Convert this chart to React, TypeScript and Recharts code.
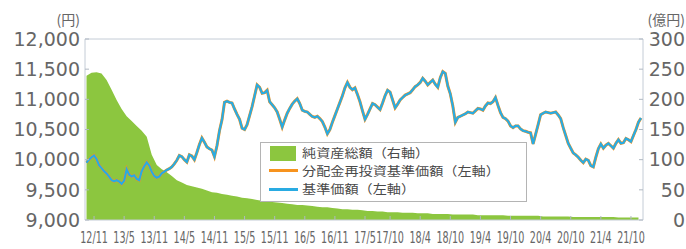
import React from 'react';
import { ComposedChart, Area, Line, XAxis, YAxis, Legend, ReferenceLine } from 'recharts';

// months counted from Jan 2012 (0 = 2012/1)
const NAV_START = 8.5; // mid-Sep 2012
const NAV_STEP = 0.5; // semi-monthly
const ASSET_START = 8.5;
const ASSET_STEP = 1; // monthly

// 基準価額 (円)
const navValues = [
  9950, 10000, 10040, 10070, 10010, 9910, 9860, 9810, 9770, 9720,
  9660, 9640, 9660, 9640, 9600, 9650, 9840, 9750, 9720, 9740,
  9680, 9660, 9810, 9890, 9955, 9900, 9800, 9730, 9700, 9720,
  9775, 9800, 9830, 9850, 9880, 9930, 9990, 10070, 10050, 10000,
  9960, 10080, 10060, 10000, 10120, 10250, 10360, 10290, 10210, 10180,
  10160, 10050, 10230, 10480, 10660, 10950, 10970, 10950, 10940, 10840,
  10750, 10670, 10520, 10500, 10580, 10730, 10880, 11060, 11240, 11200,
  11100, 11110, 11150, 10960, 10910, 10860, 10790, 10670, 10540, 10660,
  10770, 10850, 10920, 10970, 11010, 10930, 10820, 10800, 10790, 10750,
  10715, 10700, 10720, 10680, 10630, 10540, 10430, 10500, 10620, 10730,
  10840, 10950, 11060, 11190, 11280, 11200, 11160, 11190, 11080, 10960,
  10810, 10670, 10750, 10840, 10930, 10910, 10870, 10830, 10940, 11060,
  11150, 11120, 10990, 10860, 10920, 10990, 11030, 11070, 11090, 11110,
  11160, 11210, 11240, 11280, 11350, 11300, 11240, 11280, 11320, 11250,
  11200, 11360, 11460, 11430, 11220, 11090, 10890, 10620, 10700, 10720,
  10740, 10760, 10790, 10780, 10770, 10810, 10850, 10840, 10820, 10890,
  10940, 10930, 10960, 11030, 10900, 10780, 10700, 10680, 10640, 10560,
  10530, 10560, 10560, 10510, 10480, 10470, 10455, 10445, 10260, 10420,
  10580, 10745, 10770, 10790, 10780, 10770, 10780, 10790, 10740, 10680,
  10530, 10400, 10270, 10190, 10110, 10080, 10040, 9990, 9950, 10010,
  9990, 9900, 9880, 10040, 10180, 10260, 10190, 10240, 10270, 10230,
  10190, 10270, 10330, 10270, 10280, 10350, 10330, 10300, 10400, 10500,
  10620, 10690,
];

// 分配金再投資基準価額 (円) – no distributions, identical to 基準価額
const reinvestValues = navValues;

// 純資産総額 (億円)
const assetValues = [
  239, 244, 245, 243, 232, 216, 199, 184, 172, 164,
  156, 148, 138, 108, 91, 84, 79, 73, 66, 62,
  58, 56, 54, 52, 49, 46, 45, 43, 42, 40,
  39, 37, 36, 35, 33, 32, 31, 30, 29, 28,
  27, 26, 25, 25, 24, 23, 22, 21, 21, 20,
  19, 18, 18, 17, 17, 16, 15, 15, 14, 14,
  13, 13, 13, 12, 12, 12, 11, 11, 11, 10,
  10, 10, 10, 9, 9, 9, 9, 9, 8, 8,
  8, 8, 8, 8, 7, 7, 7, 7, 7, 7,
  7, 6, 6, 6, 6, 6, 6, 5, 5, 5,
  5, 5, 5, 5, 5, 5, 4, 4, 4, 4, 4,
];

const xTickLabels = [
  '12/11', '13/5', '13/11', '14/5', '14/11', '15/5', '15/11', '16/5', '16/11',
  '17/5', '17/10', '18/4', '18/10', '19/4', '19/10', '20/4', '20/10', '21/4', '21/10',
];
const leftTicks = [9000, 9500, 10000, 10500, 11000, 11500, 12000];
const rightTicks = [0, 50, 100, 150, 200, 250, 300];

const seriesNames = {
  assets: '純資産総額（右軸）',
  reinvest: '分配金再投資基準価額（左軸）',
  nav: '基準価額（左軸）',
};
const leftUnit = '(円)';
const rightUnit = '(億円)';

const GREEN = '#8cc63f';
const ORANGE = '#f7931e';
const BLUE = '#29abe2';
const FRAME = '#c4ccd6';
const AXIS_TEXT = '#666';
const NUM_FONT = '"DejaVu Sans", Verdana, sans-serif';
const CJK_FONT = '"Noto Sans CJK JP", "Noto Sans", sans-serif';

const labelToMonth = (l: string) => {
  const [yy, mm] = l.split('/').map(Number);
  return (yy - 12) * 12 + (mm - 1);
};
const xTickValues = xTickLabels.map(labelToMonth);

const navRows = navValues.map((v, i) => ({
  t: NAV_START + i * NAV_STEP,
  nav: v,
  reinvest: reinvestValues[i],
}));
const assetRows = assetValues.map((v, j) => ({ t: ASSET_START + j * ASSET_STEP, assets: v }));

const XTick = (props: any) => {
  const { x, y, payload } = props;
  const idx = xTickValues.indexOf(payload.value);
  return (
    <text
      transform={`translate(${x},${y + 19}) scale(0.64,1)`}
      textAnchor="middle"
      fontSize={15}
      fill={AXIS_TEXT}
      fontFamily={NUM_FONT}
    >
      {idx >= 0 ? xTickLabels[idx] : ''}
    </text>
  );
};

const rowText: React.CSSProperties = {
  position: 'absolute',
  left: 41,
  height: 17,
  fontSize: 12.4,
  lineHeight: '17px',
  whiteSpace: 'nowrap',
  transform: 'scaleX(1.14)',
  transformOrigin: 'left center',
};

const LegendBox = () => (
  <div
    style={{
      position: 'relative',
      width: 267,
      height: 60,
      boxSizing: 'border-box',
      border: '1px solid #b4b4b4',
      background: '#fff',
      fontFamily: CJK_FONT,
      color: '#4a4a4a',
    }}
  >
    <div style={{ position: 'absolute', left: 9, top: 3, width: 26, height: 15, background: GREEN }} />
    <div style={{ ...rowText, top: 2 }}>{seriesNames.assets}</div>
    <div style={{ position: 'absolute', left: 8, top: 26, width: 29, height: 3, background: ORANGE }} />
    <div style={{ ...rowText, top: 20 }}>{seriesNames.reinvest}</div>
    <div style={{ position: 'absolute', left: 8, top: 45, width: 29, height: 3, background: BLUE }} />
    <div style={{ ...rowText, top: 38 }}>{seriesNames.nav}</div>
  </div>
);

export default function App() {
  return (
    <div style={{ position: 'absolute', left: 0, top: 0, width: 686, height: 249, background: '#fff' }}>
      <ComposedChart width={686} height={249} margin={{ top: 39, right: 5, bottom: 0, left: 5 }}>
        <XAxis
          type="number"
          dataKey="t"
          domain={[8.2, 119.4]}
          allowDataOverflow
          ticks={xTickValues}
          interval={0}
          height={29}
          tickSize={-4}
          tickMargin={8}
          axisLine={{ stroke: FRAME }}
          tickLine={{ stroke: '#b0b8c2' }}
          tick={<XTick />}
        />
        <YAxis
          yAxisId="left"
          orientation="left"
          width={80}
          domain={[9000, 12000]}
          ticks={leftTicks}
          interval={0}
          tickSize={-4}
          tickMargin={9}
          axisLine={{ stroke: FRAME }}
          tickLine={{ stroke: '#b0b8c2' }}
          tickFormatter={(v: number) => v.toLocaleString('en-US')}
          tick={{ fontSize: 19, fill: AXIS_TEXT, fontFamily: NUM_FONT }}
          label={{
            content: () => (
              <text x={80} y={25} textAnchor="end" fontSize={14} fill={AXIS_TEXT} fontFamily={CJK_FONT}>
                {leftUnit}
              </text>
            ),
          }}
        />
        <YAxis
          yAxisId="right"
          orientation="right"
          width={38}
          domain={[0, 300]}
          ticks={rightTicks}
          interval={0}
          tickSize={-4}
          tickMargin={46}
          axisLine={{ stroke: FRAME }}
          tickLine={{ stroke: '#b0b8c2' }}
          tick={{ fontSize: 19, fill: AXIS_TEXT, fontFamily: NUM_FONT, textAnchor: 'end' }}
          label={{
            content: () => (
              <text x={685} y={25} textAnchor="end" fontSize={14} fill={AXIS_TEXT} fontFamily={CJK_FONT}>
                {rightUnit}
              </text>
            ),
          }}
        />
        <ReferenceLine yAxisId="left" y={12000} stroke={FRAME} />
        <Area
          yAxisId="right"
          data={assetRows}
          dataKey="assets"
          name={seriesNames.assets}
          type="linear"
          stroke="none"
          fill={GREEN}
          fillOpacity={1}
          isAnimationActive={false}
        />
        <Line
          yAxisId="left"
          data={navRows}
          dataKey="reinvest"
          name={seriesNames.reinvest}
          type="linear"
          stroke={ORANGE}
          strokeWidth={3}
          dot={false}
          isAnimationActive={false}
        />
        <Line
          yAxisId="left"
          data={navRows}
          dataKey="nav"
          name={seriesNames.nav}
          type="linear"
          stroke={BLUE}
          strokeWidth={2.2}
          dot={false}
          isAnimationActive={false}
        />
        <Legend
          layout="horizontal"
          verticalAlign="middle"
          align="center"
          content={<LegendBox />}
          wrapperStyle={{ left: 260, top: 142, width: 267, height: 60 }}
        />
      </ComposedChart>
    </div>
  );
}
